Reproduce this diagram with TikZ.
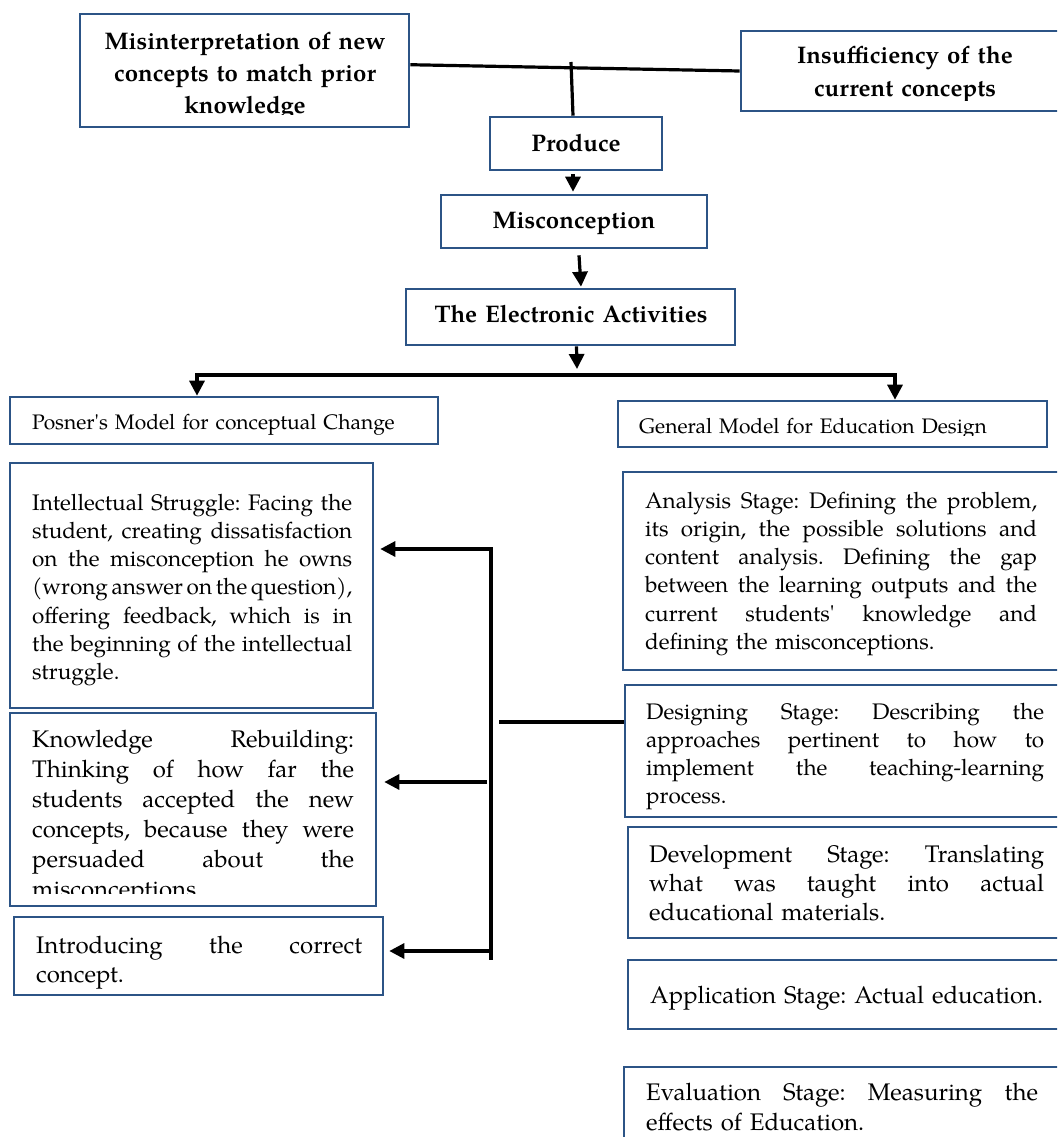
\documentclass[tikz,border=0pt]{standalone}
\usepackage{fontspec}
\setmainfont{texgyrepagella}[Extension=.otf,UprightFont=*-regular,BoldFont=*-bold,ItalicFont=*-italic,BoldItalicFont=*-bolditalic,Ligatures=TeXOff]
\usetikzlibrary{arrows.meta,fit,calc}
\definecolor{boxblue}{RGB}{44,84,134}
\newlength{\jw}
\newcommand{\jl}[1]{\leavevmode\hbox to \jw{\spaceskip=0.25em plus 1fil minus 0.12em\relax #1}}
\newcommand{\fsz}[2]{\fontsize{#1}{#2}\selectfont\frenchspacing}
\begin{document}
\begin{tikzpicture}[x=1pt,y=-1pt,
  box/.style={draw=boxblue,line width=2.6pt,inner sep=0pt,fit={#1}},
  conn/.style={line width=3.2pt,draw=black},
  arr/.style={conn,-{Triangle[length=15pt,width=15pt]}},
  body/.style={font=\fsz{22.5}{28.3},inner sep=0pt,anchor=base west,text width=#1,align=left},
  ttl/.style={font=\fsz{24}{32}\bfseries,inner sep=0pt,anchor=base,text width=#1,align=center}]
\useasboundingbox (0,0) rectangle (1057,1137);
\clip (0,0) rectangle (1057,1137);

% ---------- boxes ----------
\node[box={(80,14) (409,127)}] (mis) {};
\node[box={(741,31) (1075,111)}] (ins) {};
\node[box={(490,117) (662,170)}] (prod) {};
\node[box={(441,195) (707,248)}] (misc) {};
\node[box={(406,289) (735,345)}] (elec) {};
\node[box={(10,397) (438,444)}] (pos) {};
\node[box={(618,401) (1047,447)}] (gen) {};
\node[box={(10,463) (373,708)}] (intel) {};
\node[box={(10,713) (376,906)}] (know) {};
\node[box={(14,917) (383,995)}] (intro) {};
\node[box={(623,472) (1075,670)}] (ana) {};
\node[box={(625,685) (1075,817)}] (des) {};
\node[box={(628,827) (1075,938)}] (dev) {};
\node[box={(628,960) (1075,1029)}] (app) {};
\node[box={(624,1067) (1075,1160)}] (eva) {};

% ---------- titles ----------
\begin{scope}
\clip (80,14) rectangle (409,115);
\node[ttl=320pt] (mist) at (245,50) {Misinterpretation of new\\concepts to match prior\\knowledge};
\end{scope}
\begin{scope}
\clip (741,31) rectangle (1057,101);
\node[ttl=320pt,font=\fsz{24}{33}\bfseries] (inst) at (905,64) {Insufficiency of the\\current concepts};
\end{scope}
\node[ttl=160pt] (prodt) at (576,151) {Produce};
\node[ttl=260pt] (misct) at (574,228) {Misconception};
\node[ttl=320pt] (elect) at (571,322) {The Electronic Activities};

% ---------- body texts ----------
\node[body=400pt,font=\fsz{21}{28}] (post) at (32,429) {Posner's Model for conceptual Change};
\begin{scope}
\clip (618,401) rectangle (1047,435);
\node[body=400pt,font=\fsz{21}{28}] (gent) at (639,433) {General Model for Education Design};
\end{scope}
\node[body=320pt] (intelt) at (32,510) {\setlength{\jw}{320pt}%
\jl{Intellectual Struggle: Facing the}\\
\jl{student, creating dissatisfaction}\\
\jl{on the misconception he owns}\\
\jl{(wrong answer on the question),}\\
\jl{offering feedback, which is in}\\
\jl{the beginning of the intellectual}\\
struggle.};
\begin{scope}
\clip (10,713) rectangle (376,893);
\node[body=322pt,font=\fsz{24}{30}] (knowt) at (32,747) {\setlength{\jw}{322pt}%
\jl{Knowledge Rebuilding:}\\
\jl{Thinking of how far the}\\
\jl{students accepted the new}\\
\jl{concepts, because they were}\\
\jl{persuaded about the}\\
misconceptions.};
\end{scope}
\node[body=326pt,font=\fsz{24}{29}] (introt) at (36,953) {\setlength{\jw}{326pt}%
\jl{Introducing the correct}\\
concept.};
\node[body=392pt] (anat) at (645,508) {\setlength{\jw}{392pt}%
\jl{Analysis Stage: Defining the problem,}\\
\jl{its origin, the possible solutions and}\\
\jl{content analysis. Defining the gap}\\
\jl{between the learning outputs and the}\\
\jl{current students' knowledge and}\\
defining the misconceptions.};
\node[body=398pt] (dest) at (646,719) {\setlength{\jw}{398pt}%
\jl{Designing Stage: Describing the}\\
\jl{approaches pertinent to how to}\\
\jl{implement the teaching-learning}\\
process.};
\node[body=395pt,font=\fsz{24}{29.3}] (devt) at (649,862) {\setlength{\jw}{395pt}%
\jl{Development Stage: Translating}\\
\jl{what was taught into actual}\\
educational materials.};
\node[body=400pt,font=\fsz{24}{29}] (appt) at (650,1003) {Application Stage: Actual education.};
\node[body=392pt,font=\fsz{24}{30}] (evat) at (646,1100) {\setlength{\jw}{392pt}%
\jl{Evaluation Stage: Measuring the}\\
effects of Education.};

% ---------- connectors ----------
\draw[conn] ($(mis.north east)!0.45!(mis.south east)$) -- (ins.west);
\coordinate (j) at (571,62);
\draw[conn] (j) -- ($(prod.north)+(-3,0)$);
\draw[arr] ($(prod.south)+(-3,3)$) -- ($(misc.north)+(-1,-2)$);
\draw[arr] ($(misc.south)+(5,6)$) -- ($(misc.south |- elec.north)+(7,-1)$);
\coordinate (bus) at (577,375);
\coordinate (bl) at (197,375);
\coordinate (br) at (895,375);
\draw[arr] ($(elec.south)+(6,0)$) -- ($(bus)+(0,-6)$);
\draw[conn,line width=3.6pt] (bl) -- (br);
\draw[arr] ($(bl)+(0,-1.8)$) -- (bl |- pos.north);
\draw[arr] ($(br)+(0,-1.8)$) -- (br |- gen.north);

\coordinate (s1) at (491,549);
\coordinate (s2) at (491,960);
\draw[conn] ($(s1)+(0,-1.6)$) -- (s2);
\draw[arr,shorten >=6pt] ($(s1)+(1.6,0)$) -- (intel.east |- s1);
\draw[arr,shorten >=7pt] (487,782) -- (know.east |- 0,782);
\draw[arr,shorten >=5pt] (s1 |- 0,951) -- (intro.east |- 0,951);
\coordinate (d0) at (499,722);
\draw[conn] (d0) -- (d0 -| des.west);
\end{tikzpicture}
\end{document}
